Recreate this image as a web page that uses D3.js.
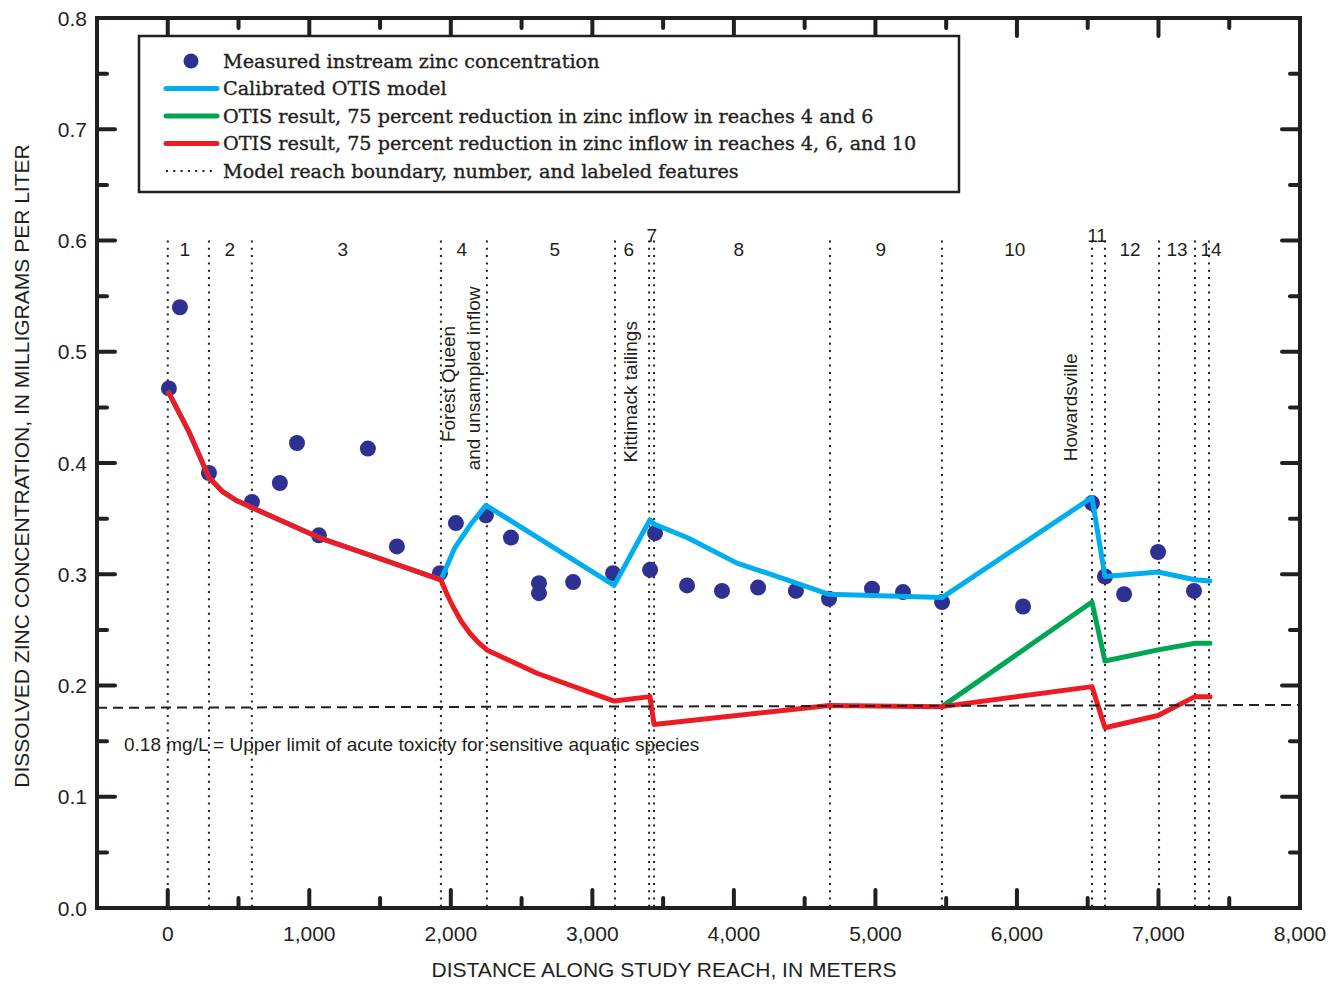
<!DOCTYPE html>
<html>
<head>
<meta charset="utf-8">
<script src="https://cdn.jsdelivr.net/npm/d3@7"></script>
<style>
    body { margin: 0; background: #fff; }
    svg { display: block; }
    .tickLabel { font-family: "Liberation Sans", Arial, sans-serif; font-size: 21px; fill: #231f20; }
    .axisTitle { font-family: "Liberation Sans", Arial, sans-serif; font-size: 21px; fill: #231f20; }
    .reachLabel { font-family: "Liberation Sans", Arial, sans-serif; font-size: 19px; fill: #231f20; }
    .legendText { font-family: "DejaVu Serif", serif; font-size: 19.2px; fill: #231f20; stroke: #231f20; stroke-width: 0.35px; }
</style>
</head>
<body>
<script>
// measured instream zinc, [distance m, mg/L]
var measured = [
    [8, 0.467], [86, 0.540], [291, 0.391], [595, 0.365], [792, 0.382], [913, 0.418],
    [1068, 0.335], [1414, 0.413], [1619, 0.325], [1923, 0.301], [2036, 0.346], [2248, 0.353],
    [2425, 0.333], [2623, 0.292], [2623, 0.283], [2864, 0.293], [3146, 0.301], [3408, 0.304],
    [3443, 0.337], [3669, 0.290], [3916, 0.285], [4171, 0.288], [4438, 0.285], [4672, 0.278],
    [4976, 0.287], [5195, 0.284], [5471, 0.275], [6043, 0.271], [6530, 0.364], [6622, 0.298],
    [6757, 0.282], [6997, 0.320], [7251, 0.285]
];

// reaches 1-3 : all model runs are the same here
var upstreamModel = [
    [8, 0.463], [150, 0.428], [291, 0.387], [390, 0.374], [489, 0.366], [594, 0.360],
    [1068, 0.333], [1500, 0.314], [1930, 0.295]
];

var calibrated = [
    [1930, 0.297], [2029, 0.324], [2135, 0.344], [2248, 0.362], [3154, 0.290], [3407, 0.349],
    [3436, 0.345], [3669, 0.333], [4022, 0.310], [4376, 0.295], [4672, 0.282], [5470, 0.279],
    [6530, 0.369], [6622, 0.298], [6997, 0.302], [7258, 0.295], [7364, 0.294]
];

var reduced46 = [
    [5470, 0.181], [6530, 0.275], [6622, 0.222], [6997, 0.232], [7258, 0.238], [7364, 0.238]
];

var reduced4610 = [
    [1930, 0.295], [1973, 0.282], [2015, 0.271], [2072, 0.258], [2135, 0.247], [2192, 0.239],
    [2255, 0.232], [2609, 0.211], [3154, 0.186], [3407, 0.190], [3436, 0.165], [4672, 0.182],
    [5470, 0.181], [6530, 0.199], [6622, 0.162], [6997, 0.173], [7258, 0.190], [7364, 0.190]
];

var reachBounds = [0, 291, 594, 1930, 2255, 3160, 3401, 3436, 4679, 5470, 6530, 6622, 7004, 7258, 7357];
var reachNames = ["1", "2", "3", "4", "5", "6", "7", "8", "9", "10", "11", "12", "13", "14"];
var reachLabelX = [120, 438, 1236, 2077, 2734, 3257, 3420, 4035, 5038, 5985, 6566, 6799, 7131, 7371];
var raisedReaches = ["7", "11"];

var features = [
    {text: "Forest Queen", x: 2029, y: 0.471},
    {text: "and unsampled inflow", x: 2206, y: 0.476},
    {text: "Kittimack tailings", x: 3315, y: 0.464},
    {text: "Howardsville", x: 6424, y: 0.450}
];

var threshold = [[-500, 0.18], [8000, 0.1825]];
var thresholdText = "0.18 mg/L = Upper limit of acute toxicity for sensitive aquatic species";

var xMajor = d3.range(0, 8001, 1000),
    xMinor = d3.range(500, 8000, 1000),
    yMajor = d3.range(0, 0.81, 0.1),
    yMinor = d3.range(0.05, 0.8, 0.1);

var legendItems = [
    {kind: "dot", label: "Measured instream zinc concentration"},
    {kind: "line", color: "#00aeef", label: "Calibrated OTIS model"},
    {kind: "line", color: "#00a651", label: "OTIS result, 75 percent reduction in zinc inflow in reaches 4 and 6"},
    {kind: "line", color: "#ed1c24", label: "OTIS result, 75 percent reduction in zinc inflow in reaches 4, 6, and 10"},
    {kind: "dotted", label: "Model reach boundary, number, and labeled features"}
];

var width = 1334,
    height = 984,
    plotLeft = 97, plotRight = 1300, plotTop = 18, plotBottom = 908,
    ink = "#231f20",
    dotColor = "#2e3192";

var svg = d3.select("body").append("svg")
    .attr("width", width)
    .attr("height", height);

var x = d3.scaleLinear().domain([-500, 8000]).range([plotLeft, plotRight]);
var y = d3.scaleLinear().domain([0, 0.8]).range([plotBottom, plotTop]);

var line = d3.line()
    .x(function(d) { return x(d[0]); })
    .y(function(d) { return y(d[1]); });

// reach boundaries
svg.append("g").selectAll("line")
    .data(reachBounds)
    .enter().append("line")
    .attr("x1", function(d) { return x(d); })
    .attr("x2", function(d) { return x(d); })
    .attr("y1", y(0.6))
    .attr("y2", plotBottom)
    .style("stroke", ink)
    .style("stroke-width", 2)
    .style("stroke-dasharray", "2,5.3");

svg.append("g").selectAll("text")
    .data(reachNames)
    .enter().append("text")
    .attr("class", "reachLabel")
    .attr("text-anchor", "middle")
    .attr("x", function(d, i) { return x(reachLabelX[i]); })
    .attr("y", function(d) { return raisedReaches.indexOf(d) >= 0 ? 242 : 256; })
    .text(function(d) { return d; });

svg.append("g").selectAll("text")
    .data(features)
    .enter().append("text")
    .attr("class", "reachLabel")
    .attr("text-anchor", "middle")
    .attr("transform", function(d) { return "translate(" + x(d.x) + "," + y(d.y) + ") rotate(-90)"; })
    .text(function(d) { return d.text; });

svg.append("text")
    .attr("class", "reachLabel")
    .attr("x", 124)
    .attr("y", 751)
    .text(thresholdText);

// measured points sit under the model lines
svg.append("g").selectAll("circle")
    .data(measured)
    .enter().append("circle")
    .attr("cx", function(d) { return x(d[0]); })
    .attr("cy", function(d) { return y(d[1]); })
    .attr("r", 8)
    .style("fill", dotColor);

var series = [
    {data: upstreamModel.concat(calibrated.slice(1)), color: "#00aeef"},
    {data: reduced46, color: "#00a651"},
    {data: upstreamModel.concat(reduced4610.slice(1)), color: "#ed1c24"}
];

svg.append("g").selectAll("path")
    .data(series)
    .enter().append("path")
    .attr("d", function(d) { return line(d.data); })
    .style("fill", "none")
    .style("stroke", function(d) { return d.color; })
    .style("stroke-width", 5)
    .style("stroke-linejoin", "round")
    .style("stroke-linecap", "round");

svg.append("path")
    .attr("d", line(threshold))
    .style("fill", "none")
    .style("stroke", ink)
    .style("stroke-width", 2)
    .style("stroke-dasharray", "10,6");

// ticks on all four sides, pointing in
function tickMarks(values, len, horizontal) {
    var g = svg.append("g");
    values.forEach(function(v) {
        if (horizontal) {
            g.append("line").attr("x1", x(v)).attr("x2", x(v)).attr("y1", plotBottom).attr("y2", plotBottom - len);
            g.append("line").attr("x1", x(v)).attr("x2", x(v)).attr("y1", plotTop).attr("y2", plotTop + len);
        } else {
            g.append("line").attr("y1", y(v)).attr("y2", y(v)).attr("x1", plotLeft).attr("x2", plotLeft + len);
            g.append("line").attr("y1", y(v)).attr("y2", y(v)).attr("x1", plotRight).attr("x2", plotRight - len);
        }
    });
    g.selectAll("line")
        .style("stroke", ink)
        .style("stroke-width", 4)
        .style("stroke-linecap", "round");
}
tickMarks(xMajor, 18, true);
tickMarks(xMinor, 10, true);
tickMarks(yMajor, 18, false);
tickMarks(yMinor, 10, false);

svg.append("rect")
    .attr("x", plotLeft)
    .attr("y", plotTop)
    .attr("width", plotRight - plotLeft)
    .attr("height", plotBottom - plotTop)
    .style("fill", "none")
    .style("stroke", ink)
    .style("stroke-width", 4);

svg.append("g").selectAll("text")
    .data(xMajor)
    .enter().append("text")
    .attr("class", "tickLabel")
    .attr("text-anchor", "middle")
    .attr("x", function(d) { return x(d); })
    .attr("y", 941)
    .text(d3.format(","));

svg.append("g").selectAll("text")
    .data(yMajor)
    .enter().append("text")
    .attr("class", "tickLabel")
    .attr("text-anchor", "end")
    .attr("x", 87)
    .attr("y", function(d) { return y(d); })
    .attr("dy", "0.36em")
    .text(d3.format(".1f"));

svg.append("text")
    .attr("class", "axisTitle")
    .attr("text-anchor", "middle")
    .attr("x", 664)
    .attr("y", 977)
    .text("DISTANCE ALONG STUDY REACH, IN METERS");

svg.append("text")
    .attr("class", "axisTitle")
    .attr("text-anchor", "middle")
    .attr("transform", "translate(29,466) rotate(-90)")
    .text("DISSOLVED ZINC CONCENTRATION, IN MILLIGRAMS PER LITER");

// legend
var legend = svg.append("g");
legend.append("rect")
    .attr("x", 139)
    .attr("y", 36)
    .attr("width", 820)
    .attr("height", 156)
    .style("fill", "#fff")
    .style("stroke", ink)
    .style("stroke-width", 2.5);

var rows = legend.selectAll(".legendRow")
    .data(legendItems)
    .enter().append("g")
    .attr("class", "legendRow")
    .attr("transform", function(d, i) { return "translate(0," + (61 + i * 27.5) + ")"; });

rows.filter(function(d) { return d.kind === "dot"; })
    .append("circle")
    .attr("cx", 191)
    .attr("r", 7.5)
    .style("fill", dotColor);

rows.filter(function(d) { return d.kind !== "dot"; })
    .append("line")
    .attr("x1", 166)
    .attr("x2", 217)
    .style("stroke", function(d) { return d.color || ink; })
    .style("stroke-width", function(d) { return d.kind === "line" ? 5 : 2; })
    .style("stroke-linecap", function(d) { return d.kind === "line" ? "round" : null; })
    .style("stroke-dasharray", function(d) { return d.kind === "dotted" ? "2,5.3" : null; });

rows.append("text")
    .attr("class", "legendText")
    .attr("x", 223)
    .attr("dy", "0.35em")
    .text(function(d) { return d.label; });
</script>
</body>
</html>
